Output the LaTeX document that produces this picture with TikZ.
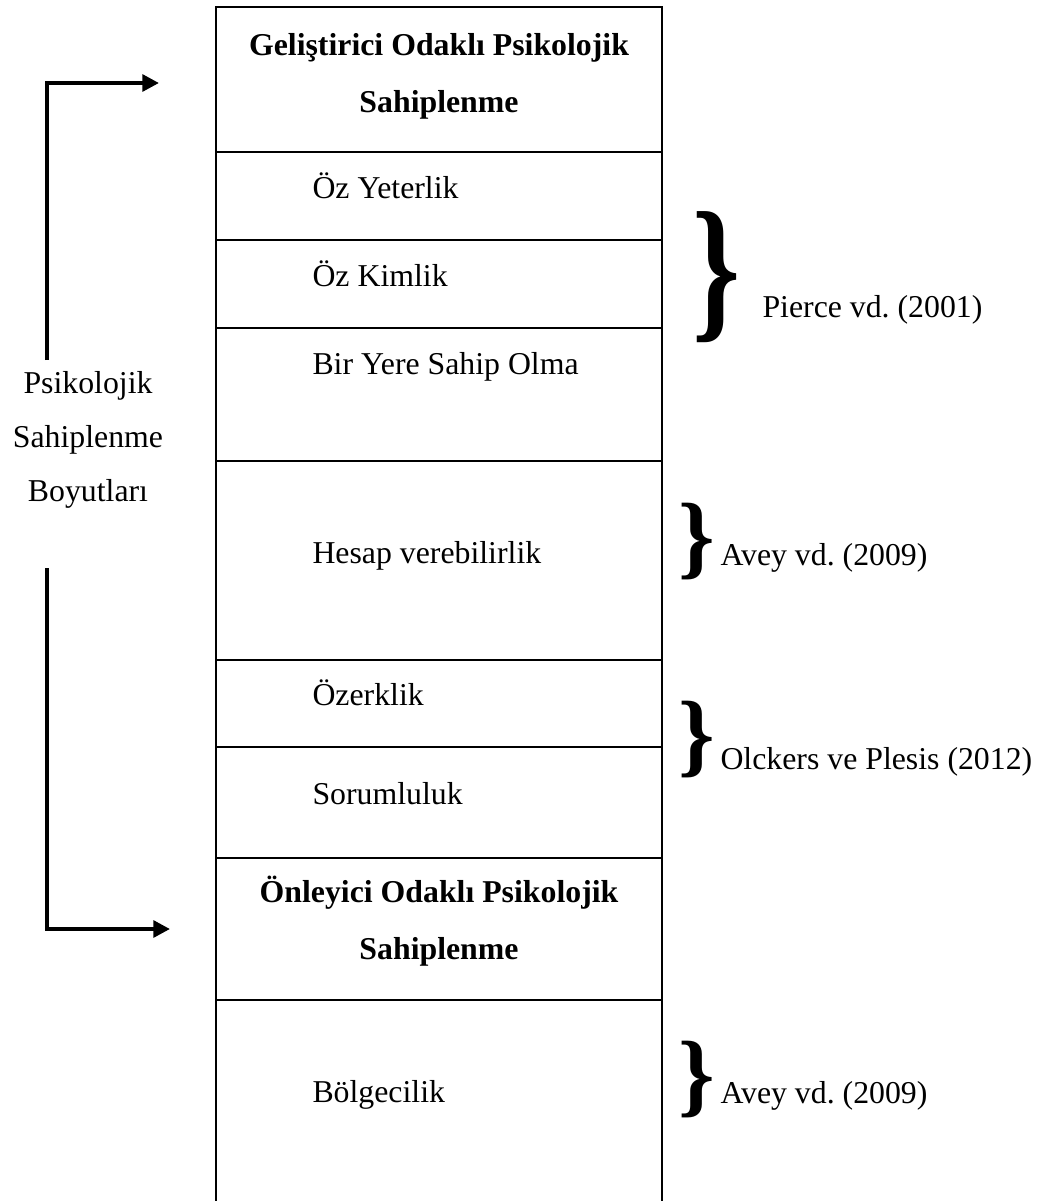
\documentclass[tikz,border=0pt]{standalone}
\usepackage{fontspec}
\setmainfont{Liberation Serif}
\usepackage{graphicx}
\usepackage{tikz}
\usetikzlibrary{arrows.meta, positioning}
\frenchspacing

\tikzset{
  cell/.style  = {draw, line width=1pt, minimum width=168.3pt, inner sep=0pt, outer sep=0pt},
  item/.style  = {font=\fontsize{12}{14}\selectfont, anchor=base west, inner sep=0pt},
  head/.style  = {font=\fontsize{12}{21.5}\selectfont\bfseries, align=center, inner sep=0pt},
  curly/.style = {font=\fontsize{35}{35}\selectfont\bfseries, inner sep=0pt},
  flow/.style  = {line width=1.5pt, -{Triangle[length=6.3pt, width=6.3pt]}}
}

\begin{document}
\begin{tikzpicture}[x=0.3774pt, y=-0.3774pt]
  \useasboundingbox (0,0) rectangle (1046,1201);
  \clip (0,0) rectangle (1046,1201);

  % the column of dimensions
  \node[cell, minimum height=54.72pt, anchor=north] (row1) at (439,7) {};
  \node[cell, minimum height=33.21pt, below=0pt of row1] (row2) {};
  \node[cell, minimum height=33.21pt, below=0pt of row2] (row3) {};
  \node[cell, minimum height=50.19pt, below=0pt of row3] (row4) {};
  \node[cell, minimum height=75.10pt, below=0pt of row4] (row5) {};
  \node[cell, minimum height=32.83pt, below=0pt of row5] (row6) {};
  \node[cell, minimum height=41.89pt, below=0pt of row6] (row7) {};
  \node[cell, minimum height=53.59pt, below=0pt of row7] (row8) {};
  \node[cell, minimum height=80.01pt, below=0pt of row8] (row9) {};

  \node[head] (promo) at (439,76) {Geliştirici Odaklı Psikolojik\\Sahiplenme};
  \node[item] (selfeff) at (312,198) {Öz Yeterlik};
  \node[item] (selfid)  at (312,286) {Öz Kimlik};
  \node[item] (home)    at (312,374) {Bir Yere Sahip Olma};
  \node[item] (account) at (312,563) {Hesap verebilirlik};
  \node[item] (auton)   at (312,705) {Özerklik};
  \node[item] (respons) at (312,804) {Sorumluluk};
  \node[head] (prevent) at (439,921) {Önleyici Odaklı Psikolojik\\Sahiplenme};
  \node[item] (territ)  at (312,1102) {Bölgecilik};

  % label and arrows on the left
  \node[font=\fontsize{12}{20.3}\selectfont, align=center, inner sep=0pt]
       (dims) at (88,440) {Psikolojik\\Sahiplenme\\Boyutları};
  \coordinate (upfoot)   at (47,360);
  \coordinate (uptip)    at (159,83);
  \coordinate (downhead) at (47,568);
  \coordinate (downtip)  at (170,929);
  \draw[flow] (upfoot) |- (uptip);
  \draw[flow] (downhead) |- (downtip);

  % sources on the right
  \node[curly, font=\fontsize{46}{46}\selectfont\bfseries] (br1) at (717,277) {\scalebox{1}[1.3]{\}}};
  \node[item] (pierce) at (762,317) {Pierce vd. (2001)};
  \node[curly] (br2) at (697,542) {\}};
  \node[item] (avey1)  at (720,565) {Avey vd. (2009)};
  \node[curly] (br3) at (697,740) {\}};
  \node[item] (olck)   at (720,769) {Olckers ve Plesis (2012)};
  \node[curly] (br4) at (697,1080) {\}};
  \node[item] (avey2)  at (720,1103) {Avey vd. (2009)};
\end{tikzpicture}
\end{document}
